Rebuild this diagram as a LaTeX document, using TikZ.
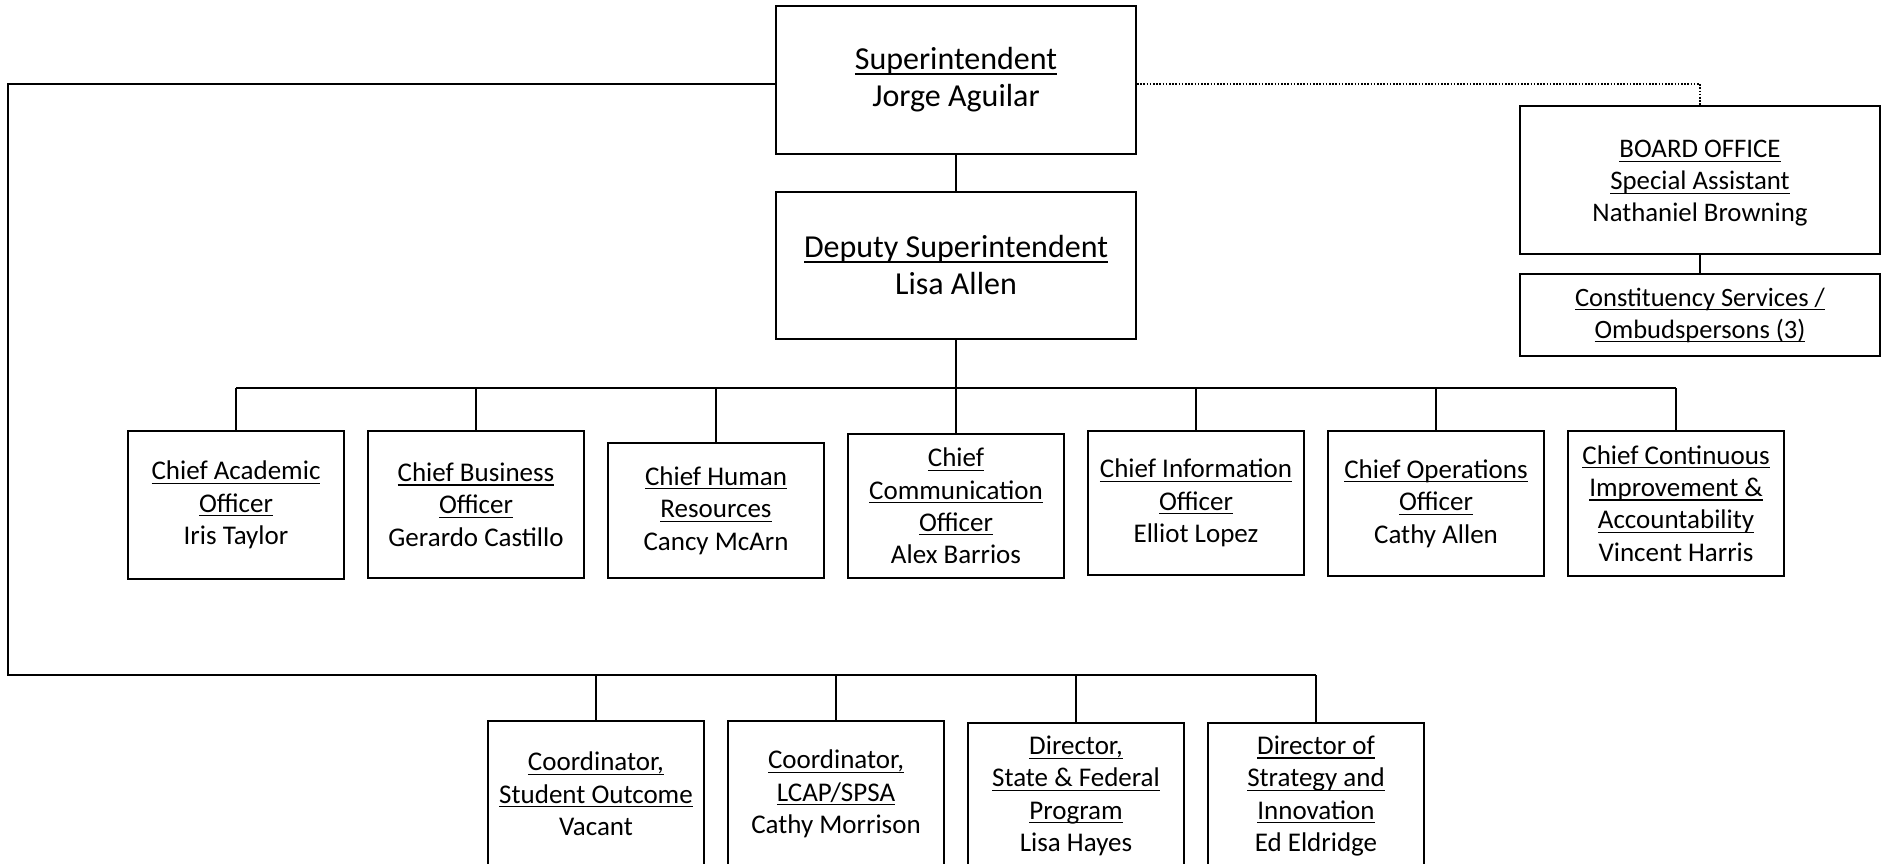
\documentclass[tikz,border=0pt]{standalone}
\usepackage{fontspec}
\setmainfont{Carlito}
\newsavebox\tlbox
\newcommand\tl[1]{\sbox\tlbox{#1}\rlap{\rule[-0.15em]{\wd\tlbox}{0.045em}}\usebox\tlbox}
\tikzset{
  box/.style={draw, line width=2pt, align=center, inner sep=0pt, fill=white,
              font=\fontsize{27}{32.3}\selectfont},
  bigbox/.style={box, font=\fontsize{32}{37}\selectfont},
  conn/.style={line width=1.8pt},
  dotconn/.style={line width=1.5pt, dash pattern=on 1.6pt off 1.6pt}
}
\begin{document}
\begin{tikzpicture}[x=1pt,y=-1pt]
\useasboundingbox (0,0) rectangle (1889,864);
\clip (0,0) rectangle (1889,864);
% top
\node[bigbox, minimum width=360pt, minimum height=148pt] (sup) at (956,80) {\tl{Superintendent}\\Jorge Aguilar};
\node[bigbox, minimum width=360pt, minimum height=147pt] (dep) at (956,265.5) {\tl{Deputy Superintendent}\\Lisa Allen};
\node[box, minimum width=360pt, minimum height=148pt, font=\fontsize{26.8}{32}\selectfont] (board) at (1700,180) {\rule{0pt}{24pt}\tl{BOARD OFFICE}\\\tl{Special Assistant}\\Nathaniel Browning};
\node[box, minimum width=360pt, minimum height=82pt, font=\fontsize{26.5}{32}\selectfont] (const) at (1700,315) {\tl{Constituency Services /}\\\tl{Ombudspersons (3)}};
% chiefs
\node[box, minimum width=216pt, minimum height=148pt] (c1) at (236,505) {\tl{Chief Academic}\\\tl{Officer}\\Iris Taylor};
\node[box, minimum width=216pt, minimum height=147pt] (c2) at (476,504.5) {\tl{Chief Business}\\\tl{Officer}\\Gerardo Castillo};
\node[box, minimum width=216pt, minimum height=135pt] (c3) at (716,510.5) {\tl{Chief Human}\\\tl{Resources}\\Cancy McArn};
\node[box, minimum width=216pt, minimum height=144pt] (c4) at (956,506) {\tl{Chief}\\\tl{Communication}\\\tl{Officer}\\Alex Barrios};
\node[box, minimum width=216pt, minimum height=144pt] (c5) at (1196,503) {\tl{Chief Information}\\\tl{Officer}\\Elliot Lopez};
\node[box, minimum width=216pt, minimum height=145pt] (c6) at (1436,503.5) {\tl{Chief Operations}\\\tl{Officer}\\Cathy Allen};
\node[box, minimum width=216pt, minimum height=145pt] (c7) at (1676,503.5) {\tl{Chief Continuous}\\\tl{Improvement \&}\\\tl{Accountability}\\Vincent Harris};
% bottom
\node[box, minimum width=216pt, minimum height=146pt] (b1) at (596,794) {\tl{Coordinator,}\\\tl{Student Outcome}\\Vacant};
\node[box, minimum width=216pt, minimum height=146pt] (b2) at (836,794) {\tl{Coordinator,}\\\tl{LCAP/SPSA}\\Cathy Morrison};
\node[box, minimum width=216pt, minimum height=146pt] (b3) at (1076,796) {\tl{Director,}\\\tl{State \& Federal}\\\tl{Program}\\Lisa Hayes};
\node[box, minimum width=216pt, minimum height=146pt] (b4) at (1316,796) {\tl{Director of}\\\tl{Strategy and}\\\tl{Innovation}\\Ed Eldridge};
% coordinates
\coordinate (bus) at (956,388);
\coordinate (L) at (8,84);
\coordinate (B) at (8,675);
\coordinate (D) at (1700,84);
% connectors
\draw[conn] (sup) -- (dep);
\draw[conn] (dep.south) -- (bus);
\draw[conn] (c1.north |- bus) -- (c7.north |- bus);
\foreach \n in {c1,c2,c3,c4,c5,c6,c7} \draw[conn] (\n.north |- bus) -- (\n.north);
\draw[conn] (sup.west |- L) -- (L) -- (B) -- (b4.north |- B);
\foreach \n in {b1,b2,b3,b4} \draw[conn] (\n.north |- B) -- (\n.north);
\draw[dotconn] (sup.east |- D) -- (D) -- (board.north);
\draw[conn] (board) -- (const);
\end{tikzpicture}
\end{document}
